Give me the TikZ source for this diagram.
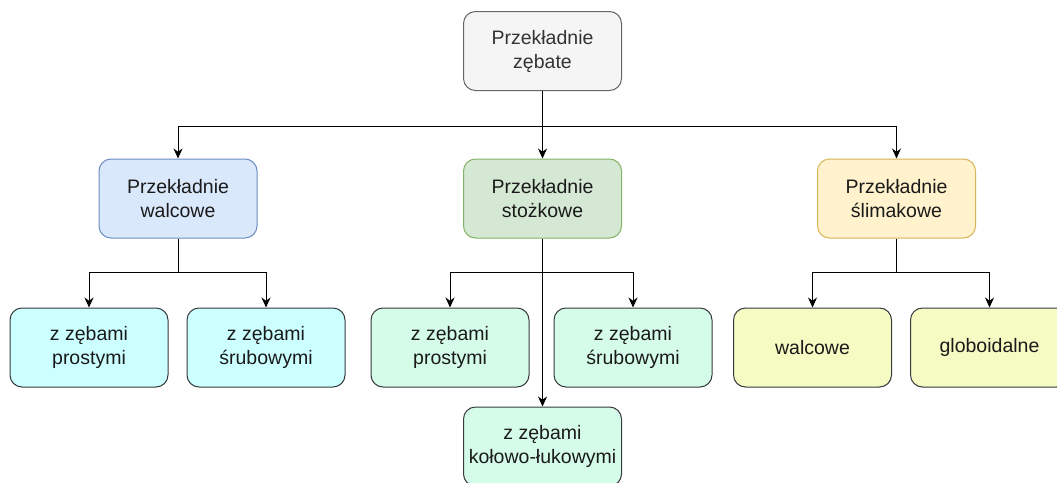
\documentclass[tikz,border=0pt]{standalone}
\usepackage{fontspec}
\setmainfont{Liberation Sans}
\usetikzlibrary{arrows.meta}
\definecolor{topfill}{HTML}{F5F5F5}
\definecolor{topdraw}{HTML}{666666}
\definecolor{toptext}{HTML}{333333}
\definecolor{bluefill}{HTML}{DAE8FC}
\definecolor{bluedraw}{HTML}{6C8EBF}
\definecolor{greenfill}{HTML}{D5E8D4}
\definecolor{greendraw}{HTML}{82B366}
\definecolor{yelfill}{HTML}{FFF2CC}
\definecolor{yeldraw}{HTML}{D6B656}
\definecolor{cyanfill}{HTML}{CCFFFF}
\definecolor{mintfill}{HTML}{D5FCE8}
\definecolor{limefill}{HTML}{F5FBC3}
\definecolor{darkdraw}{HTML}{36393D}
\definecolor{bodytext}{HTML}{1A1A1A}
\begin{document}
\begin{tikzpicture}[x=1pt,y=-1pt,
  box/.style={rounded corners=12pt, minimum width=158pt, minimum height=79pt,
    align=center, font=\fontsize{19.5}{24}\selectfont, line width=1pt,
    inner sep=0pt, text=bodytext},
  topbox/.style={box, fill=topfill, draw=topdraw, text=toptext},
  bluebox/.style={box, fill=bluefill, draw=bluedraw},
  greenbox/.style={box, fill=greenfill, draw=greendraw},
  yelbox/.style={box, fill=yelfill, draw=yeldraw},
  cyanbox/.style={box, fill=cyanfill, draw=darkdraw},
  mintbox/.style={box, fill=mintfill, draw=darkdraw},
  limebox/.style={box, fill=limefill, draw=darkdraw},
  conn/.style={line width=1pt, draw=black, -{Stealth[length=10pt,width=9pt]}}]
\useasboundingbox (0,0) rectangle (1057,482);
\clip (0,0) rectangle (1057,482);
\fill[white] (0,0) rectangle (1057,482);

\node[topbox] (top) at (542.5,51) {Przekładnie\\zębate};
\node[bluebox] (walc) at (178,198.5) {Przekładnie\\walcowe};
\node[greenbox] (stoz) at (542.5,198.5) {Przekładnie\\stożkowe};
\node[yelbox] (slim) at (896.5,198.5) {Przekładnie\\ślimakowe};

\node[cyanbox] (a1) at (89,347.5) {z zębami\\prostymi};
\node[cyanbox] (a2) at (266,347.5) {z zębami\\śrubowymi};
\node[mintbox] (b1) at (450,347.5) {z zębami\\prostymi};
\node[mintbox] (b2) at (633,347.5) {z zębami\\śrubowymi};
\node[mintbox] (b3) at (542.5,446.5) {z zębami\\kołowo-łukowymi};
\node[limebox] (c1) at (812.5,347.5) {walcowe};
\node[limebox] (c2) at (989.5,347.5) {globoidalne};

\draw[conn] (top.south) -- ++(0,35) -| (walc.north);
\draw[conn] (top.south) -- (stoz.north);
\draw[conn] (top.south) -- ++(0,35) -| (slim.north);

\draw[conn] (walc.south) -- ++(0,34) -| (a1.north);
\draw[conn] (walc.south) -- ++(0,34) -| (a2.north);

\draw[conn] (stoz.south) -- ++(0,34) -| (b1.north);
\draw[conn] (stoz.south) -- ++(0,34) -| (b2.north);
\draw[conn] (stoz.south) -- (b3.north);

\draw[conn] (slim.south) -- ++(0,34) -| (c1.north);
\draw[conn] (slim.south) -- ++(0,34) -| (c2.north);
\end{tikzpicture}
\end{document}
